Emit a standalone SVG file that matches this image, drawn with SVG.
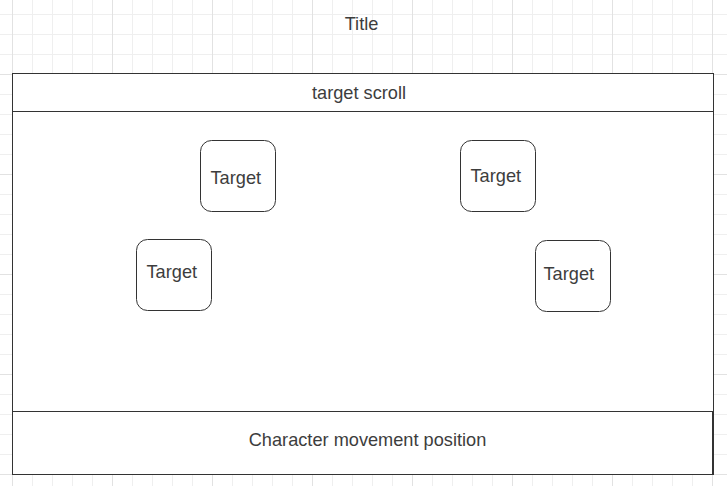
<svg xmlns="http://www.w3.org/2000/svg" width="727" height="486" viewBox="0 0 727 486">
  <style>
    .lbl { font-family: "Liberation Sans", Arial, sans-serif; font-size: 18.2px; fill: #3d3d3d; }
    .box { fill: #ffffff; stroke: #333333; stroke-width: 1; }
    .minor { stroke: #efefef; stroke-width: 1; }
    .major { stroke: #e2e2e2; stroke-width: 1; }
  </style>
  <defs>
    <pattern id="grid" patternUnits="userSpaceOnUse" x="12" y="74" width="100" height="100">
      <path class="minor" d="M20.5 0V100M40.5 0V100M60.5 0V100M80.5 0V100M0 20.5H100M0 40.5H100M0 60.5H100M0 80.5H100" fill="none"/>
      <path class="major" d="M0.5 0V100M0 0.5H100" fill="none"/>
    </pattern>
  </defs>
  <rect width="727" height="486" fill="#ffffff"/>
  <rect width="727" height="486" fill="url(#grid)"/>

  <g id="title">
    <text class="lbl" x="361.5" y="30" text-anchor="middle">Title</text>
  </g>

  <g id="target-scroll">
    <rect class="box" x="12.5" y="73.5" width="701" height="401"/>
    <line x1="12.5" y1="111.5" x2="713.5" y2="111.5" stroke="#333333" stroke-width="1"/>
    <text class="lbl" x="359" y="99" text-anchor="middle">target scroll</text>
  </g>

  <g id="character-movement">
    <rect class="box" x="12.5" y="411.5" width="700" height="63"/>
    <text class="lbl" x="367.5" y="446" text-anchor="middle">Character movement position</text>
  </g>

  <g id="target-1">
    <rect class="box" x="200.5" y="140.5" width="75" height="71" rx="11" ry="11"/>
    <text class="lbl" x="210.5" y="184">Target</text>
  </g>
  <g id="target-2">
    <rect class="box" x="460.5" y="140.5" width="75" height="71" rx="11" ry="11"/>
    <text class="lbl" x="470.5" y="182">Target</text>
  </g>
  <g id="target-3">
    <rect class="box" x="136.5" y="239.5" width="75" height="71" rx="11" ry="11"/>
    <text class="lbl" x="146.5" y="278">Target</text>
  </g>
  <g id="target-4">
    <rect class="box" x="535.5" y="240.5" width="75" height="71" rx="11" ry="11"/>
    <text class="lbl" x="543.5" y="280">Target</text>
  </g>

  <g id="connectors"></g>
</svg>
